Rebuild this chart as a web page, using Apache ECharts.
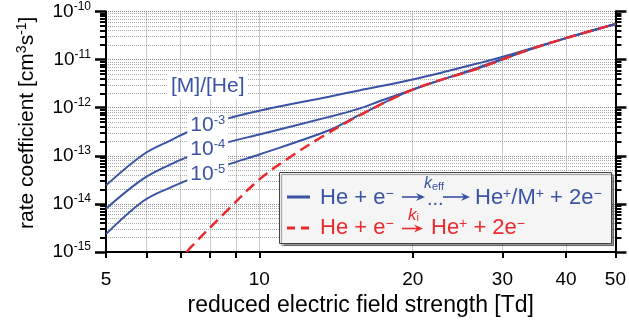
<!DOCTYPE html>
<html>
<head>
<meta charset="utf-8">
<script src="https://cdn.jsdelivr.net/npm/echarts@6/dist/echarts.min.js"></script>
<style>
  html, body { margin: 0; padding: 0; background: #fff; }
  #chart { width: 629px; height: 322px; }
</style>
</head>
<body>
<div id="chart"></div>
<script>
// values: field in Td, rate coefficient in cm^3 s^-1
const fieldM3 = [5, 5.92, 6.68, 7.3, 8.61, 10, 13.7, 15.7, 20.1, 27, 31.8, 40, 50];
const rateM3 = [2.44e-14, 1.07e-13, 2.08e-13, 3.24e-13, 5.86e-13, 8.7e-13, 1.7e-12, 2.29e-12, 3.9e-12, 8.46e-12, 1.36e-11, 2.8e-11, 5.5e-11];

const fieldM4 = [5, 5.92, 6.68, 7.3, 8.61, 10, 13.7, 15.7, 17.2, 20.1, 27, 33.8, 40, 50];
const rateM4 = [8.0e-15, 3.36e-14, 6.6e-14, 9.87e-14, 1.87e-13, 2.77e-13, 6.45e-13, 9.6e-13, 1.36e-12, 2.43e-12, 7.0e-12, 1.6e-11, 2.8e-11, 5.5e-11];

const fieldM5 = [5, 5.92, 6.68, 7.3, 8.61, 10, 13.7, 15.7, 20.1, 27, 33.8, 40, 50];
const rateM5 = [2.36e-15, 1.15e-14, 2.19e-14, 3.25e-14, 6.4e-14, 1.07e-13, 3.4e-13, 7.0e-13, 2.43e-12, 6.7e-12, 1.6e-11, 2.8e-11, 5.5e-11];

const fieldIon = [7.2, 7.3, 8.55, 10, 11.46, 13.3, 15.7, 20.1, 27, 33.8, 40, 50];
const rateIon = [1.0e-15, 1.2e-15, 6.5e-15, 3.25e-14, 9.27e-14, 2.52e-13, 6.85e-13, 2.43e-12, 6.67e-12, 1.6e-11, 2.8e-11, 5.5e-11];

// ratio labels sitting on the curves
const ratioNames = ['-3', '-4', '-5'];
const ratioField = 7.92;
const ratioRates = [4.26e-13, 1.36e-13, 4.12e-14];
const headerRate = 2.87e-12;

const xTicks = [5, 6, 7, 8, 9, 10, 20, 30, 40, 50];
const xLabels = [5, 10, 20, 30, 40, 50];
const yMajor = [1e-15, 1e-14, 1e-13, 1e-12, 1e-11, 1e-10];
const yMinor = [];
yMajor.slice(0, -1).forEach(function (m) {
  for (let k = 2; k <= 9; k++) yMinor.push(k * m);
});

const blue = '#3a53a4';
const red = '#ec2a2e';
const font = 'Liberation Sans';

function pairs(xs, ys) {
  return xs.map(function (x, i) { return [x, ys[i]]; });
}

const supRich = {
  b: { fontSize: 19, fontFamily: font, color: '#000', lineHeight: 22 },
  s: { fontSize: 12, fontFamily: font, color: '#000', verticalAlign: 'top', lineHeight: 12 },
};

function yAxisCfg(position, ticks, len, width, showLine, showLabel, split) {
  return {
    type: 'log', logBase: 10, min: 1e-15, max: 1e-10, position: position,
    axisLine: { show: showLine, lineStyle: { color: '#000', width: 2 } },
    axisTick: { show: true, inside: false, length: len, customValues: ticks, lineStyle: { color: '#000', width: width } },
    axisLabel: {
      show: showLabel, customValues: yMajor, margin: 15,
      formatter: function (v) { return '{b|10}{s|-' + Math.round(-Math.log10(v)) + '}'; },
      rich: supRich,
    },
    splitLine: { show: !!split, lineStyle: { color: split || '#999', type: 'dotted', width: 1 } },
  };
}

const labelMark = {
  symbol: 'rect', symbolSize: 1, silent: true,
  itemStyle: { color: 'rgba(0,0,0,0)' },
  label: {
    show: true, position: 'inside', color: blue, fontFamily: font,
    backgroundColor: '#fff', padding: [1, 3],
    formatter: function (p) { return p.name; },
    rich: {
      b: { fontSize: 21, fontFamily: font, color: blue, lineHeight: 23 },
      s: { fontSize: 13, fontFamily: font, color: blue, verticalAlign: 'top', lineHeight: 12 },
      h: { fontSize: 21, fontFamily: font, color: blue, lineHeight: 24 },
    },
  },
};

function ratioMark(i) {
  return { name: '{b|10}{s|' + ratioNames[i] + '}', coord: [ratioField, ratioRates[i]] };
}

function blueSeries(name, xs, ys, marks) {
  const s = {
    name: name, type: 'line', data: pairs(xs, ys), smooth: 0.35, symbol: 'none',
    lineStyle: { color: blue, width: 2 }, z: 2,
  };
  if (marks) s.markPoint = Object.assign({}, labelMark, { data: marks });
  return s;
}

const legendRich = {
  s: { fontSize: 14, fontFamily: font, verticalAlign: 'top', lineHeight: 13 },
};

function arrow(x1, x2, y, color) {
  return [
    { type: 'line', z: 11, shape: { x1: x1, y1: y, x2: x2 - 4, y2: y }, style: { stroke: color, lineWidth: 1.6 } },
    { type: 'polygon', z: 11, shape: { points: [[x2, y], [x2 - 9, y - 4], [x2 - 6, y], [x2 - 9, y + 4]] }, style: { fill: color } },
  ];
}

function legendText(x, y, text, color) {
  return { type: 'text', z: 11, x: x, y: y, style: { text: text, fontSize: 22, fontFamily: font, fill: color, verticalAlign: 'middle', rich: legendRich } };
}

const option = {
  animation: false,
  grid: { left: 106, right: 12, top: 11.5, bottom: 69, show: false },
  xAxis: {
    type: 'log', logBase: 10, min: 5, max: 50,
    name: 'reduced electric field strength [Td]', nameLocation: 'middle', nameGap: 38,
    nameTextStyle: { fontSize: 23, color: '#000', fontFamily: font },
    axisLine: { show: true, onZero: false, lineStyle: { color: '#000', width: 2 } },
    axisTick: { show: true, inside: false, length: 6, customValues: xTicks, lineStyle: { color: '#000', width: 2 } },
    axisLabel: { customValues: xLabels, margin: 18, fontSize: 19, color: '#000', fontFamily: font },
    splitLine: { show: true, lineStyle: { color: '#999', type: 'dotted', width: 1 } },
  },
  yAxis: [
    Object.assign(yAxisCfg('left', yMajor, 11, 2.5, true, true, '#888'), {
      name: 'rate coefficient [cm{s|3}s{s|-1}]', nameLocation: 'middle', nameGap: 66,
      nameTextStyle: {
        fontSize: 21, color: '#000', fontFamily: font, lineHeight: 25, padding: [0, 0, 0, 18],
        rich: { s: { fontSize: 14, fontFamily: font, color: '#000', verticalAlign: 'top', lineHeight: 14 } },
      },
    }),
    yAxisCfg('left', yMinor, 6, 2, false, false, '#aaa'),
    yAxisCfg('right', yMajor, 11, 2.5, true, false, null),
    yAxisCfg('right', yMinor, 6, 2, false, false, null),
  ],
  series: [
    blueSeries('1e-3', fieldM3, rateM3, [
      ratioMark(0),
      { name: '{h|[M]/[He]}', coord: [ratioField, headerRate] },
    ]),
    blueSeries('1e-4', fieldM4, rateM4, [ratioMark(1)]),
    blueSeries('1e-5', fieldM5, rateM5, [ratioMark(2)]),
    {
      name: 'ionization', type: 'line', data: pairs(fieldIon, rateIon), smooth: 0.35, symbol: 'none',
      lineStyle: { color: red, width: 2.5, type: [11, 6] }, z: 3,
    },
  ],
  graphic: [
    {
      type: 'rect', left: 279, top: 172, z: 10,
      shape: { width: 332, height: 71 },
      style: { fill: '#f5f5f5', stroke: '#444', lineWidth: 1, shadowColor: 'rgba(0,0,0,0.4)', shadowOffsetX: 2, shadowOffsetY: 2, shadowBlur: 1 },
    },
    { type: 'line', z: 11, shape: { x1: 287, y1: 197, x2: 310, y2: 197 }, style: { stroke: blue, lineWidth: 3 } },
    { type: 'line', z: 11, shape: { x1: 287, y1: 228, x2: 310, y2: 228 }, style: { stroke: red, lineWidth: 3, lineDash: [8, 6] } },
    legendText(320, 198, 'He + e{s|\u2212}', blue),
    { type: 'text', z: 11, x: 427, y: 199, style: { text: '...', fontSize: 20, fontFamily: font, fill: blue, verticalAlign: 'middle' } },
    { type: 'text', z: 11, x: 424, y: 184, style: { text: '{k|k}{e|eff}', fontSize: 15, fontFamily: font, fill: blue, verticalAlign: 'middle', rich: { k: { fontSize: 16, fontStyle: 'italic', fontFamily: font }, e: { fontSize: 11, fontFamily: font, verticalAlign: 'bottom' } } } },
    legendText(475, 198, 'He{s|+}/M{s|+} + 2e{s|\u2212}', blue),
    legendText(320, 228, 'He + e{s|\u2212}', red),
    { type: 'text', z: 11, x: 408, y: 215, style: { text: '{k|k}{e|i}', fontSize: 15, fontFamily: font, fill: red, verticalAlign: 'middle', rich: { k: { fontSize: 17, fontStyle: 'italic', fontFamily: font }, e: { fontSize: 11, fontFamily: font, verticalAlign: 'bottom' } } } },
    legendText(431, 228, 'He{s|+} + 2e{s|\u2212}', red),
  ].concat(arrow(402, 425, 197, blue), arrow(443, 470, 197, blue), arrow(402, 423, 228.5, red)),
};

const myChart = echarts.init(document.getElementById('chart'));
myChart.setOption(option);
</script>
</body>
</html>
